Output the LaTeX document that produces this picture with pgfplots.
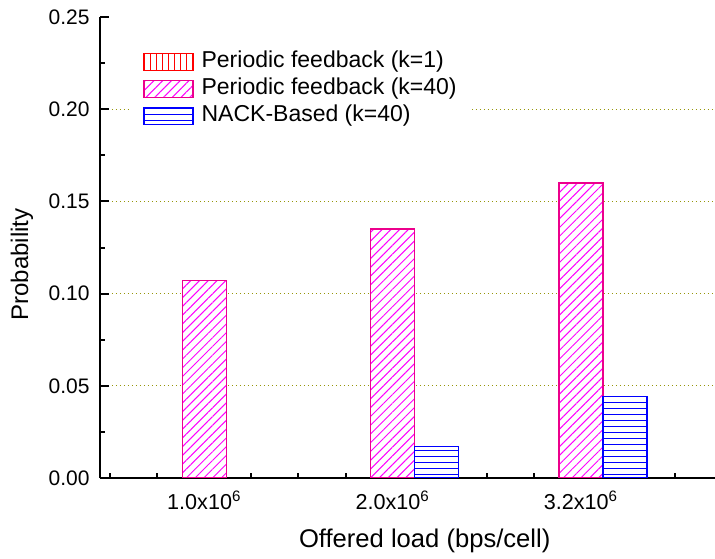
\documentclass[border=0pt]{standalone}
\usepackage{fontspec}
\setmainfont{Liberation Sans}
\usepackage{pgfplots}
\pgfplotsset{compat=1.18}
\usetikzlibrary{patterns.meta}
\definecolor{gridc}{RGB}{150,150,10}
\pgfplotsset{
  mylegend/.style={legend image code/.code={\draw[##1] (0bp,-4.25bp) rectangle (24.5bp,4.25bp);}},
}
\begin{document}
\begin{tikzpicture}
\begin{axis}[
  at={(0,0)}, anchor=south west,
  scale only axis, width=307.5bp, height=230.5bp,
  xmin=0.446, xmax=3.712, ymin=0, ymax=0.25,
  axis lines*=left,
  axis line style={line width=1bp, black},
  tick align=inside,
  xtick={1,2,3},
  xticklabels={1.0x10\textsuperscript{6},2.0x10\textsuperscript{6},3.2x10\textsuperscript{6}},
  major x tick style={draw=none},
  minor xtick={0.5,0.75,...,3.5},
  ytick={0,0.05,0.10,0.15,0.20,0.25},
  minor ytick={0.025,0.075,0.125,0.175,0.225},
  major tick length=4.5bp, minor tick length=2.5bp,
  tick style={line width=1bp, black},
  yticklabel style={/pgf/number format/.cd, fixed, fixed zerofill, precision=2, assume math mode=true, /tikz/.cd, font=\fontsize{10.5bp}{12bp}\selectfont, xshift=-1.7bp},
  xticklabel style={font=\fontsize{10.8bp}{12bp}\selectfont, yshift=-3bp},
  extra y ticks={0.05,0.10,0.15,0.20},
  extra y tick labels={},
  extra y tick style={grid=major, major grid style={gridc, line width=0.6bp, dash pattern=on 0.5bp off 1.5bp}},
  xlabel={Offered load (bps/cell)},
  xlabel style={at={(axis description cs:0.528,-0.1367)}, anchor=center, font=\fontsize{12.8bp}{15bp}\selectfont},
  ylabel={Probability},
  ylabel style={at={(axis description cs:-0.127,0.463)}, anchor=center, font=\fontsize{12bp}{14bp}\selectfont},
  legend style={at={(axis description cs:0.0488,0.948)}, anchor=north west, draw=none, fill=white,
    inner xsep=6.5bp, inner ysep=4bp, row sep=1.1bp, column sep=3bp,
    font=\fontsize{11.5bp}{13bp}\selectfont,
    nodes={inner sep=1bp, text height=8bp, text depth=2.5bp}},
  legend cell align=left,
  mylegend,
]
\addlegendimage{draw=red, line width=0.6bp, fill=white, postaction={pattern={Lines[angle=90,distance=3bp,line width=0.5bp]}, pattern color=red}}
\addlegendentry{Periodic feedback (k=1)}
\addplot[ybar, bar width=22bp, bar shift=-22bp, draw=none, fill=none, forget plot]
  coordinates {(1,0) (2,0) (3,0)};
\addplot[ybar, bar width=22bp, bar shift=0bp, draw=magenta, line width=0.6bp, fill=white,
  postaction={pattern={Lines[angle=45,distance=3.1bp,line width=0.5bp]}, pattern color=magenta}, mylegend]
  coordinates {(1,0.107) (2,0.135) (3,0.160)};
\addlegendentry{Periodic feedback (k=40)}
\addplot[ybar, bar width=22bp, bar shift=22bp, draw=none, fill=none, forget plot]
  coordinates {(1,0)};
\addplot[ybar, bar width=22bp, bar shift=22bp, draw=blue, line width=0.6bp, fill=white,
  postaction={pattern={Lines[angle=0,distance=3bp,line width=0.5bp]}, pattern color=blue}, mylegend]
  coordinates {(2,0.017) (3,0.044)};
\addlegendentry{NACK-Based (k=40)}
\end{axis}
\pgfresetboundingbox
\useasboundingbox (-50bp,-40.5bp) rectangle (307.5bp,239bp);
\end{tikzpicture}
\end{document}
